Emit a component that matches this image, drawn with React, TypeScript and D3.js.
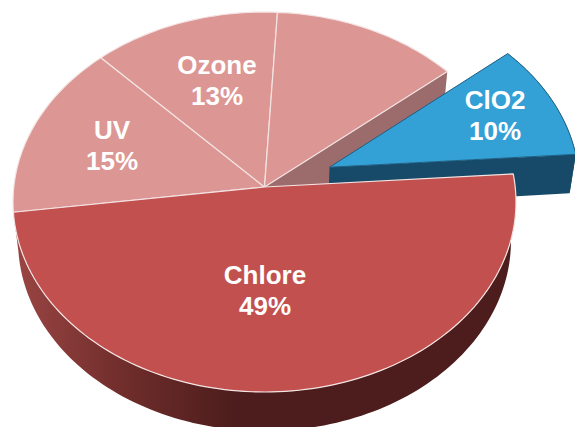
import React from "react";
import * as d3 from "d3";

const categories = ["Chlore", "UV", "Ozone", "", "ClO2"];
const shares = [49, 15, 13, 13, 10];
const shownLabels = ["Chlore", "UV", "Ozone", "", "ClO2"];
const percentLabels = ["49%", "15%", "13%", "", "10%"];

const W = 575, H = 427;
const CX = 264.5, CY = 187, A = 250.7, K = 188.8, P = 0.079;
const DEPTH = 39, BOTTOM_SCALE = 0.98;
const START = (86 * Math.PI) / 180;
const EXPLODE = 0.282;
const labelXY: [number, number][] = [[265, 275], [112, 130], [217, 65], [0, 0], [495, 100]];
const topColors = ["#c2504f", "#dc9694", "#dc9694", "#dc9694", "#33a0d6"];

type Pt = [number, number];
const project = (u: number, v: number): Pt => {
  const w = 1 - P * v;
  return [CX + (A * u) / w, CY + (K * v) / w];
};
const lower = ([x, y]: Pt): Pt => [CX + (x - CX) * BOTTOM_SCALE, y + DEPTH];

const arcs = d3
  .pie<number>()
  .sort(null)
  .startAngle(START)
  .endAngle(START + 2 * Math.PI)(shares);

function rim(a0: number, a1: number, ox: number, oy: number): Pt[] {
  const n = Math.max(8, Math.ceil(Math.abs(a1 - a0) * 40));
  return d3.range(n + 1).map((i) => {
    const a = a0 + ((a1 - a0) * i) / n;
    return project(ox + Math.sin(a), oy - Math.cos(a));
  });
}
const line = d3.line<Pt>();
const closed = (pts: Pt[]) => line(pts) + "Z";

export default function App() {
  const [chlore, , , other, clo2] = arcs;
  const mid = (clo2.startAngle + clo2.endAngle) / 2;
  const ox = EXPLODE * Math.sin(mid), oy = -EXPLODE * Math.cos(mid);

  const faces = arcs.map((a, i) => {
    const e = i === 4;
    const apex = project(e ? ox : 0, e ? oy : 0);
    return [apex, ...rim(a.startAngle, a.endAngle, e ? ox : 0, e ? oy : 0)];
  });

  // walls
  const otherEdge = project(Math.sin(other.endAngle), -Math.cos(other.endAngle));
  const apex0 = project(0, 0);
  const otherWall = [apex0, otherEdge, lower(otherEdge), lower(apex0)];

  const cRim = rim(clo2.startAngle, clo2.endAngle, ox, oy);
  const cApex = project(ox, oy);
  const cWallOuter = [...cRim, ...cRim.slice().reverse().map(lower)];
  const cEnd = cRim[cRim.length - 1];
  const cWallSide = [cApex, cEnd, lower(cEnd), lower(cApex)];

  const chRim = rim(chlore.startAngle, chlore.endAngle, 0, 0);
  const chWall = [...chRim, ...chRim.slice().reverse().map(lower)];

  return (
    <svg
      width={W}
      height={H}
      viewBox={`0 0 ${W} ${H}`}
      style={{ position: "absolute", left: 0, top: 0, background: "#fff" }}
    >
      <defs>
        <linearGradient id="wall" gradientUnits="userSpaceOnUse" x1={15} x2={235} y1={0} y2={0}>
          <stop offset="0" stopColor="#9a4543" />
          <stop offset="0.5" stopColor="#6f2d2b" />
          <stop offset="1" stopColor="#4c1d1c" />
        </linearGradient>
      </defs>

      <path d={closed(otherWall)} fill="#9c6b6b" />
      {[1, 2, 3].map((i) => (
        <path key={categories[i] + i} d={closed(faces[i])} fill={topColors[i]} stroke="#f3e4e3" strokeWidth={1.2} strokeLinejoin="round" />
      ))}

      <path d={closed(cWallOuter)} fill="#174a68" />
      <path d={closed(cWallSide)} fill="#174a68" />
      <path d={closed(faces[4])} fill={topColors[4]} stroke="#1f5f82" strokeWidth={1} strokeLinejoin="round" />

      <path d={closed(chWall)} fill="url(#wall)" />
      <path d={closed(faces[0])} fill={topColors[0]} stroke="#f3e4e3" strokeWidth={1.2} strokeLinejoin="round" />

      {shownLabels.map((t, i) =>
        t ? (
          <text
            key={i}
            textAnchor="middle"
            fontFamily="'Liberation Sans', Arial, sans-serif"
            fontWeight="bold"
            fontSize={26}
            fill="#fff"
          >
            <tspan x={labelXY[i][0]} y={labelXY[i][1] + 9}>{t}</tspan>
            <tspan x={labelXY[i][0]} y={labelXY[i][1] + 40}>{percentLabels[i]}</tspan>
          </text>
        ) : null
      )}
    </svg>
  );
}
